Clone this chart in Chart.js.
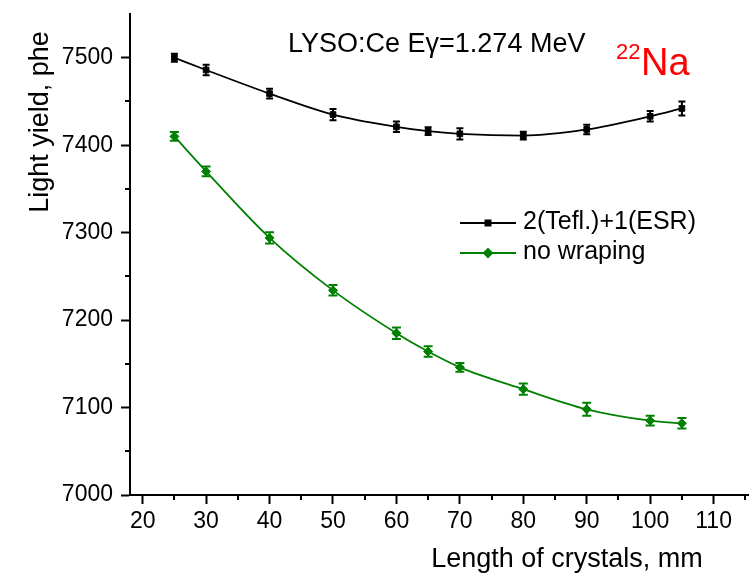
<!DOCTYPE html>
<html>
<head>
<meta charset="utf-8">
<script src="https://cdn.jsdelivr.net/npm/chart.js@4"></script>
<style>
  html, body { margin: 0; padding: 0; background: #fff; }
  #wrap { width: 754px; height: 574px; position: relative; }
</style>
</head>
<body>
<div id="wrap"><canvas id="c" width="754" height="574"></canvas></div>
<script>
// Crystal lengths, mm
const lengths = [25, 30, 40, 50, 60, 65, 70, 80, 90, 100, 105];
// Light yield (phe) and its uncertainty for 2 Teflon layers + 1 ESR layer
const teflEsr = [7500, 7486, 7459, 7435, 7421, 7416, 7413, 7411, 7418, 7433, 7442];
const teflEsrErr = [4.5, 6, 5.5, 6.5, 6, 4.5, 6.5, 4.5, 5.5, 6, 8];
// Light yield (phe) and its uncertainty without wrapping
const noWrap = [7410, 7370, 7294, 7234, 7185, 7164, 7146, 7121, 7098, 7085, 7082];
const noWrapErr = [5, 5.5, 6.5, 6, 6.5, 6, 5, 6.5, 7.5, 5.5, 6];

const seriesNames = ['2(Tefl.)+1(ESR)', 'no wraping'];
const xMajorTicks = [20, 30, 40, 50, 60, 70, 80, 90, 100, 110];
const xMinorTicks = [25, 35, 45, 55, 65, 75, 85, 95, 105, 115];
const yMajorTicks = [7000, 7100, 7200, 7300, 7400, 7500];
const yMinorTicks = [7050, 7150, 7250, 7350, 7450];

const FONT = '"Liberation Sans", Arial, sans-serif';
const GREEN = '#008000';

const toPoints = (ys, errs) => lengths.map((x, i) => ({ x, y: ys[i], err: errs[i] }));

// Vertical error bars with caps, drawn through the chart scales
const errorBars = {
  id: 'errorBars',
  afterDatasetsDraw(chart) {
    const ctx = chart.ctx;
    const xs = chart.scales.x, ys = chart.scales.y;
    chart.data.datasets.forEach(ds => {
      const cap = ds.capHalf;
      ctx.save();
      ctx.strokeStyle = ds.borderColor;
      ctx.lineWidth = ds.errWidth;
      ds.data.forEach(p => {
        const px = xs.getPixelForValue(p.x);
        const top = ys.getPixelForValue(p.y + p.err);
        const bot = ys.getPixelForValue(p.y - p.err);
        ctx.beginPath();
        ctx.moveTo(px, top); ctx.lineTo(px, bot);
        ctx.moveTo(px - cap, top); ctx.lineTo(px + cap, top);
        ctx.moveTo(px - cap, bot); ctx.lineTo(px + cap, bot);
        ctx.stroke();
      });
      ctx.restore();
    });
  }
};

// Short minor tick marks on both axes
const minorTicks = {
  id: 'minorTicks',
  afterDraw(chart) {
    const ctx = chart.ctx;
    const xs = chart.scales.x, ys = chart.scales.y;
    const a = chart.chartArea;
    ctx.save();
    ctx.strokeStyle = '#000';
    ctx.lineWidth = 2;
    ctx.beginPath();
    xMinorTicks.forEach(v => {
      const px = Math.round(xs.getPixelForValue(v));
      ctx.moveTo(px, a.bottom); ctx.lineTo(px, a.bottom + 5);
    });
    yMinorTicks.forEach(v => {
      const py = Math.round(ys.getPixelForValue(v));
      ctx.moveTo(a.left, py); ctx.lineTo(a.left - 5, py);
    });
    ctx.stroke();
    ctx.restore();
  }
};

// Axis titles, annotation text and the legend box
const annotations = {
  id: 'annotations',
  afterDraw(chart) {
    const ctx = chart.ctx;
    ctx.save();
    ctx.fillStyle = '#000';
    ctx.textBaseline = 'alphabetic';

    // y axis title
    ctx.save();
    ctx.translate(48, 122);
    ctx.rotate(-Math.PI / 2);
    ctx.textAlign = 'center';
    ctx.font = '27px ' + FONT;
    ctx.fillText('Light yield, phe', 0, 0);
    ctx.restore();

    // x axis title
    ctx.textAlign = 'center';
    ctx.font = '27px ' + FONT;
    ctx.fillText('Length of crystals, mm', 567, 567);

    // measurement conditions
    ctx.textAlign = 'left';
    ctx.font = '27px ' + FONT;
    ctx.fillText('LYSO:Ce E\u03B3=1.274 MeV', 288, 52);

    // source isotope
    ctx.fillStyle = '#ff0000';
    ctx.font = '22px ' + FONT;
    ctx.fillText('22', 616, 59);
    ctx.font = '38px ' + FONT;
    ctx.fillText('Na', 641, 75);

    // legend
    const rows = [223, 253];
    chart.data.datasets.forEach((ds, i) => {
      const y = rows[i];
      ctx.strokeStyle = ds.borderColor;
      ctx.fillStyle = ds.borderColor;
      ctx.lineWidth = 2;
      ctx.beginPath();
      ctx.moveTo(460, y); ctx.lineTo(516, y);
      ctx.stroke();
      Chart.helpers.drawPoint(ctx, {
        pointStyle: ds.pointStyle, radius: ds.pointRadius - 0.5, borderWidth: 1
      }, 488, y);
      ctx.fillStyle = '#000';
      ctx.font = '25px ' + FONT;
      ctx.fillText(seriesNames[i], 523, y + 6);
    });
    ctx.restore();
  }
};

const noPad = s => { s.paddingTop = 0; s.paddingBottom = 0; s.paddingLeft = 0; s.paddingRight = 0; };

new Chart(document.getElementById('c'), {
  type: 'line',
  data: {
    datasets: [
      {
        label: seriesNames[0],
        data: toPoints(teflEsr, teflEsrErr),
        borderColor: '#000',
        backgroundColor: '#000',
        borderWidth: 1.8,
        pointStyle: 'rect',
        pointRadius: 4,
        pointBorderWidth: 1,
        tension: 0.4,
        cubicInterpolationMode: 'monotone',
        capHalf: 3.5,
        errWidth: 2
      },
      {
        label: seriesNames[1],
        data: toPoints(noWrap, noWrapErr),
        borderColor: GREEN,
        backgroundColor: GREEN,
        borderWidth: 1.8,
        pointStyle: 'rectRot',
        pointRadius: 4.5,
        pointBorderWidth: 1,
        tension: 0.4,
        cubicInterpolationMode: 'monotone',
        capHalf: 4.5,
        errWidth: 2
      }
    ]
  },
  options: {
    responsive: false,
    animation: false,
    devicePixelRatio: 1,
    layout: { padding: { top: 14, right: 0, left: 0, bottom: 0 } },
    plugins: { legend: { display: false }, tooltip: { enabled: false } },
    scales: {
      x: {
        type: 'linear',
        min: 18,
        max: 115.5,
        afterFit(s) { s.height = 79; noPad(s); },
        afterBuildTicks(s) { s.ticks = xMajorTicks.map(v => ({ value: v })); },
        border: { display: true, color: '#000', width: 2 },
        grid: { display: true, drawOnChartArea: false, drawTicks: true, tickLength: 9, tickWidth: 2, tickColor: '#000' },
        ticks: { color: '#000', font: { family: FONT, size: 23 }, padding: 4, maxRotation: 0, callback: v => String(v) }
      },
      y: {
        type: 'linear',
        min: 7000,
        max: 7550,
        afterFit(s) { s.width = 130; noPad(s); },
        afterBuildTicks(s) { s.ticks = yMajorTicks.map(v => ({ value: v })); },
        border: { display: true, color: '#000', width: 2 },
        grid: { display: true, drawOnChartArea: false, drawTicks: true, tickLength: 9, tickWidth: 2, tickColor: '#000' },
        ticks: { color: '#000', font: { family: FONT, size: 23 }, padding: 8, callback: v => String(v) }
      }
    }
  },
  plugins: [errorBars, minorTicks, annotations]
});
</script>
</body>
</html>
